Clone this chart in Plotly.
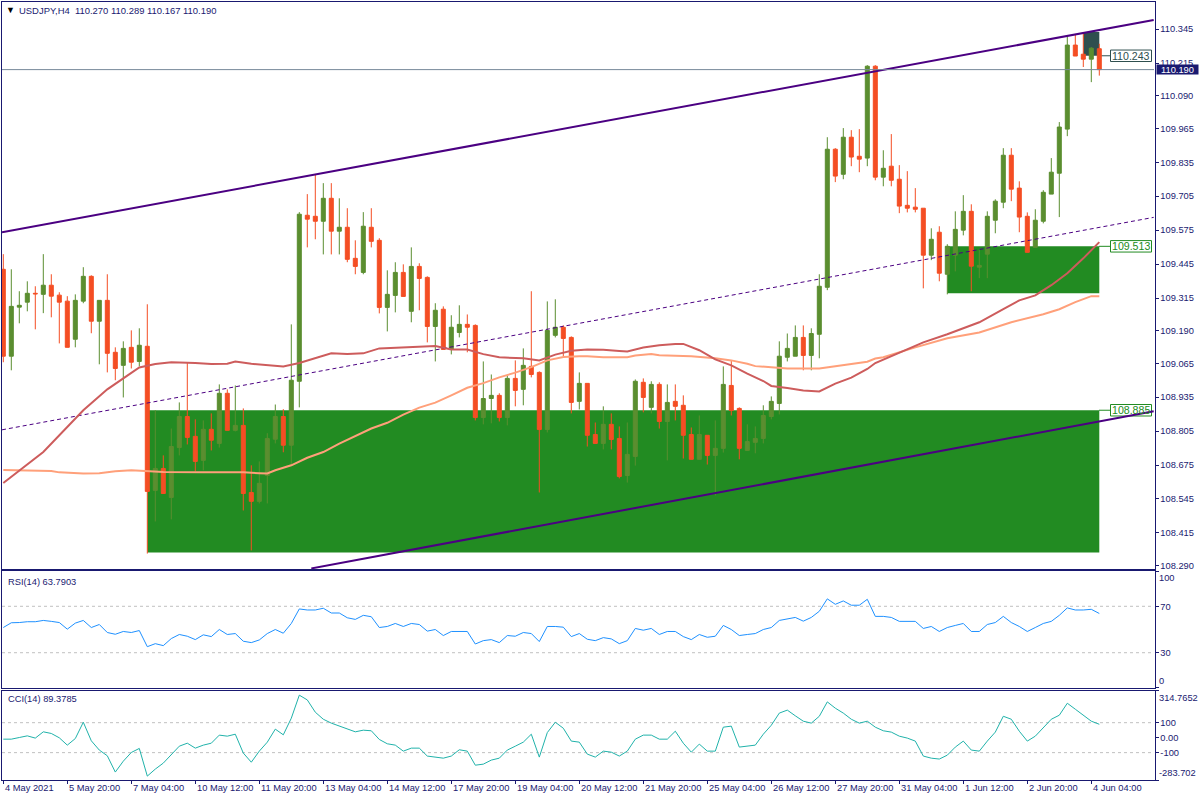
import plotly.graph_objects as go

FONT = "Liberation Sans"
NAVY = "#191970"

# open, high, low, close per H4 bar
opens = [109.425,109.092,109.280,109.299,109.333,109.329,109.364,109.326,109.303,109.157,109.303,109.398,109.226,109.306,109.107,109.057,109.126,109.072,109.130,108.578,
108.662,108.551,108.742,108.861,108.785,108.693,108.812,108.758,108.950,108.808,108.827,108.570,108.536,108.635,108.774,108.861,108.751,108.996,109.632,109.628,
109.609,109.697,109.571,109.586,109.467,109.413,109.586,109.536,109.279,109.325,109.413,109.264,109.436,109.394,109.206,109.272,109.118,109.183,109.214,109.210,
108.857,108.930,108.942,108.857,109.007,108.965,109.053,109.030,108.811,109.172,109.203,109.164,108.919,108.988,108.792,108.758,108.831,108.777,108.635,108.708,
108.992,108.896,108.984,108.842,108.919,108.904,108.792,108.697,108.789,108.712,108.739,108.980,108.892,108.731,108.762,108.777,108.861,108.911,109.088,109.092,
109.164,109.095,109.176,109.356,109.885,109.789,109.931,109.858,109.851,110.203,109.778,109.820,109.770,109.670,109.663,109.659,109.479,109.567,109.406,109.479,
109.575,109.647,109.433,109.483,109.613,109.682,109.862,109.736,109.628,109.509,109.609,109.713,109.793,109.962,110.284,110.249,110.230,110.270]
highs = [109.483,109.425,109.341,109.379,109.360,109.483,109.406,109.337,109.322,109.329,109.433,109.402,109.306,109.406,109.126,109.149,109.191,109.199,109.291,108.885,
108.712,108.815,108.915,109.069,108.850,108.846,108.873,108.984,108.965,108.980,108.892,108.674,108.689,108.797,108.907,108.889,109.214,109.644,109.713,109.789,
109.755,109.755,109.697,109.659,109.536,109.644,109.659,109.544,109.421,109.452,109.444,109.509,109.448,109.398,109.295,109.283,109.249,109.287,109.252,109.214,
109.072,109.022,108.950,109.018,109.076,109.122,109.341,109.034,109.302,109.310,109.210,109.168,109.030,108.988,108.838,108.900,108.873,108.823,108.838,109.003,
109.007,108.996,108.992,108.984,108.984,108.942,108.819,108.865,108.789,108.846,109.053,109.076,108.896,108.831,108.823,108.904,108.938,109.149,109.179,109.210,
109.210,109.199,109.406,109.931,109.889,109.966,109.958,109.962,110.207,110.207,109.881,109.943,109.824,109.801,109.736,109.659,109.582,109.590,109.521,109.647,
109.709,109.674,109.502,109.647,109.693,109.889,109.889,109.762,109.643,109.655,109.728,109.851,109.989,110.318,110.326,110.334,110.276,110.289]
lows = [109.069,109.038,109.218,109.264,109.195,109.257,109.241,109.141,109.126,109.126,109.295,109.180,109.061,109.030,109.000,108.934,109.045,109.053,108.336,108.459,
108.566,108.467,108.712,108.754,108.651,108.655,108.731,108.742,108.808,108.804,108.501,108.348,108.528,108.528,108.758,108.724,108.674,108.896,109.509,109.540,
109.482,109.482,109.482,109.452,109.406,109.406,109.509,109.256,109.187,109.260,109.321,109.222,109.268,109.145,109.072,109.118,109.099,109.164,109.107,108.846,
108.831,108.835,108.842,108.827,108.900,108.904,109.011,108.570,108.800,109.164,109.092,108.873,108.888,108.746,108.758,108.735,108.735,108.624,108.608,108.673,
108.877,108.873,108.815,108.693,108.846,108.700,108.697,108.697,108.677,108.559,108.723,108.865,108.697,108.731,108.720,108.758,108.850,108.869,109.072,109.092,
109.038,109.038,109.084,109.345,109.759,109.770,109.820,109.797,109.820,109.766,109.743,109.743,109.640,109.643,109.643,109.352,109.460,109.379,109.329,109.417,
109.555,109.341,109.391,109.391,109.563,109.659,109.686,109.567,109.490,109.509,109.601,109.713,109.625,109.935,110.242,110.200,110.142,110.167]
closes = [109.092,109.283,109.287,109.333,109.331,109.364,109.322,109.299,109.126,109.306,109.398,109.226,109.306,109.103,109.045,109.122,109.069,109.134,108.574,108.662,
108.566,108.746,108.861,108.781,108.689,108.812,108.770,108.950,108.808,108.827,108.566,108.536,108.605,108.777,108.861,108.751,109.000,109.636,109.617,109.609,
109.697,109.571,109.586,109.463,109.436,109.590,109.532,109.279,109.329,109.413,109.321,109.436,109.390,109.206,109.268,109.118,109.203,109.214,109.203,108.857,
108.930,108.942,108.857,109.007,108.961,109.057,109.022,108.811,109.191,109.203,109.160,108.915,108.988,108.789,108.758,108.831,108.773,108.631,108.716,108.996,
108.934,108.984,108.842,108.915,108.900,108.789,108.697,108.792,108.712,108.739,108.984,108.884,108.739,108.765,108.777,108.865,108.919,109.092,109.122,109.164,
109.095,109.179,109.360,109.885,109.782,109.931,109.855,109.847,110.203,109.778,109.812,109.766,109.667,109.659,109.655,109.479,109.540,109.410,109.513,109.578,
109.647,109.437,109.440,109.628,109.686,109.862,109.732,109.625,109.490,109.613,109.720,109.797,109.970,110.284,110.242,110.230,110.272,110.190]
bars = list(range(len(closes)))

ma_red_i = [0,5,10,13,15,17,19,21,24,26,28,29,31,33,35,37,39,41,43,45,47,50,52,54,56,58,60,62,65,67,69,71,73,75,77,78,80,82,84,85,87,89,91,93,95,96,98,100,102,104,106,108,109,112,115,118,122,125,127,129,131,133,135,137]
ma_red = [108.606,108.725,108.885,108.965,109.007,109.049,109.062,109.069,109.066,109.062,109.063,109.072,109.063,109.057,109.053,109.066,109.085,109.103,109.100,109.103,109.122,109.126,109.131,109.131,109.118,109.118,109.100,109.088,109.084,109.076,109.098,109.113,109.118,109.117,109.112,109.110,109.125,109.134,109.139,109.139,109.115,109.080,109.057,109.025,108.997,108.978,108.970,108.961,108.957,108.987,109.010,109.043,109.066,109.107,109.145,109.176,109.222,109.272,109.306,109.325,109.364,109.410,109.467,109.529]
ma_salmon_i = [0,6,7,10,12,14,16,18,20,25,30,32,33,34,36,38,40,42,44,46,48,50,52,54,56,58,60,62,64,66,68,70,72,73,75,78,79,81,82,85,86,89,91,93,94,96,98,102,104,106,108,109,110,114,118,122,126,130,132,134,136,137]
ma_salmon = [108.656,108.652,108.647,108.643,108.644,108.651,108.655,108.651,108.648,108.647,108.647,108.644,108.643,108.655,108.674,108.703,108.725,108.757,108.785,108.815,108.837,108.868,108.895,108.914,108.942,108.971,108.989,109.011,109.029,109.050,109.076,109.089,109.092,109.092,109.088,109.088,109.095,109.100,109.096,109.095,109.092,109.084,109.076,109.063,109.054,109.050,109.045,109.045,109.054,109.063,109.071,109.083,109.088,109.126,109.161,109.183,109.222,109.253,109.272,109.299,109.322,109.322]

rsi = [51.7,55.8,56,56.7,56.7,57.8,57,56,50.3,55.5,57.8,51.7,54.3,47.4,45.9,48.3,47.4,49.1,35.2,37.8,36.1,42.2,45.7,44.2,41.3,45.4,43.9,50,45.7,46.5,39.9,38.7,41,46.5,50,46.8,55.2,67.7,66.8,66.8,68.3,64.2,64.2,60.1,58.7,62.2,61,51.7,52.6,55.2,52.6,55.2,54.3,48.6,50,44.8,48.3,48.3,48.3,37.5,40.4,41.3,38.7,44.8,44.2,47.4,46.5,39.6,52.6,52.6,52,43.9,46.5,41.6,40.4,43,41.9,37.8,40.4,50.9,49.4,50.9,45.7,48.3,48.3,43.9,41.3,45.7,43.3,44.2,53.5,50,44.8,45.7,46.5,50,51.7,57.8,59,60.4,57.2,60.4,65.7,76.4,71.7,74.6,70.9,70.9,76,61.3,61.3,60.4,57,57,57,50.9,52.6,48.3,51.7,53.5,55.2,48.3,48.3,54.3,56,61.3,56,52.6,48.3,51.7,55.2,57,62.2,68.6,66.8,66.8,67.4,63.79]
cci = [-10,-10,1,12,-3,39,28,-1,-50,-6,103,-21,-83,-121,-230,-157,-99,-72,-257,-210,-170,-115,-57,-37,-70,-50,-37,17,10,23,-103,-164,-90,-30,57,19,130,284,252,170,123,97,77,57,39,50,46,-12,-41,-50,-90,-70,-70,-123,-130,-137,-123,-81,-90,-184,-177,-150,-137,-83,-57,-30,23,-130,34,103,63,-23,-30,-110,-130,-90,-97,-123,-90,-10,17,17,-10,-10,43,-37,-97,-43,-90,-90,70,77,-63,-57,-50,23,83,164,184,146,110,97,143,239,197,164,123,97,110,70,46,37,10,-3,-23,-123,-137,-143,-117,-63,-23,-83,-90,-23,37,143,123,43,-23,10,63,123,150,230,190,150,110,89.38]

# drawn objects: [bar start, bar end], [price a, price b]
upper_i, upper_p = [-0.16, 143.8], [109.567, 110.380]
lower_i, lower_p = [38.5, 143.8], [108.279, 108.881]
mid_i, mid_p = [-0.16, 143.8], [108.810, 109.624]
zones = [(18, 137, 108.885, 108.340, "#228b22"), (118, 137, 109.513, 109.333, "#228b22"), (135, 137, 110.334, 110.243, "#2f4f4f")]
zone_tags = [("108.885", 108.885, "#228b22"), ("109.513", 109.513, "#228b22"), ("110.243", 110.243, "#2f4f4f")]
last_price = 110.190

price_ticks = [110.345,110.215,110.090,109.965,109.835,109.705,109.575,109.445,109.315,109.190,109.065,108.935,108.805,108.675,108.545,108.415,108.290]
time_labels = ["4 May 2021","5 May 20:00","7 May 04:00","10 May 12:00","11 May 20:00","13 May 04:00","14 May 12:00","17 May 20:00","19 May 04:00","20 May 12:00","21 May 20:00","25 May 04:00","26 May 12:00","27 May 20:00","31 May 04:00","1 Jun 12:00","2 Jun 20:00","4 Jun 04:00"]
time_bars = [0,8,16,24,32,40,48,56,64,72,80,88,96,104,112,120,128,136]

W, H = 1200, 800
V = 1.0033  # vertical correction measured against the returned picture
def py(px):
    return max(0.0, 1 - px * V / H)

fig = go.Figure()
fig.add_trace(go.Candlestick(x=bars, open=opens, high=highs, low=lows, close=closes, whiskerwidth=0,
    increasing=dict(line=dict(color="#5b8e30", width=1), fillcolor="#5b8e30"),
    decreasing=dict(line=dict(color="#f44e24", width=1), fillcolor="#f44e24"), xaxis="x", yaxis="y", hoverinfo="skip"))
for xs, ys, col, w, dash in [(mid_i, mid_p, "#4b0082", 1, "4px,3px"), (upper_i, upper_p, "#4b0082", 2, "solid"), (lower_i, lower_p, "#4b0082", 2, "solid"),
                             (ma_salmon_i, ma_salmon, "#ffa07a", 2, "solid"), (ma_red_i, ma_red, "#cd5c5c", 2, "solid")]:
    fig.add_trace(go.Scatter(x=xs, y=ys, mode="lines", line=dict(color=col, width=w, dash=dash), xaxis="x", yaxis="y", hoverinfo="skip"))
fig.add_trace(go.Scatter(x=bars, y=rsi, mode="lines", line=dict(color="#1e90ff", width=1), xaxis="x2", yaxis="y2", hoverinfo="skip"))
fig.add_trace(go.Scatter(x=bars, y=cci, mode="lines", line=dict(color="#20b2aa", width=1), xaxis="x3", yaxis="y3", hoverinfo="skip"))

shapes = []
for x0, x1, a, b, col in zones:
    shapes.append(dict(type="rect", xref="x", yref="y", x0=x0, x1=x1, y0=a, y1=b, fillcolor=col, line_width=0, layer="below"))
for lab, p, col in zone_tags:
    shapes.append(dict(type="line", xref="paper", yref="y", x0=1099/W, x1=1111/W, y0=p, y1=p, line=dict(color=col, width=1), layer="below"))
    shapes.append(dict(type="rect", xref="paper", yref="y", x0=1110.5/W, x1=1151.5/W, y0=p-0.022, y1=p+0.022, fillcolor="#ffffff", line=dict(color=col, width=1), layer="below"))
shapes.append(dict(type="line", xref="paper", yref="y", x0=2/W, x1=1154/W, y0=last_price, y1=last_price, line=dict(color="#778899", width=1)))
for lv in (30, 70):
    shapes.append(dict(type="line", xref="paper", yref="y2", x0=2/W, x1=1154/W, y0=lv, y1=lv, line=dict(color="#c0c0c0", width=1, dash="3px,3px"), layer="below"))
for lv in (-100, 100):
    shapes.append(dict(type="line", xref="paper", yref="y3", x0=2/W, x1=1154/W, y0=lv, y1=lv, line=dict(color="#c0c0c0", width=1, dash="3px,3px"), layer="below"))

ann = []
def text(x, y, s, size=9.3, color=NAVY, anchor="left", yanchor="middle", **kw):
    ann.append(dict(xref="paper", yref="paper", x=x/W, y=py(y), text=s, showarrow=False, xanchor=anchor, yanchor=yanchor,
                    font=dict(family=FONT, size=size, color=color), borderpad=0, **kw))

text(5, 9.5, "▼", size=9, color="#000000")
text(18, 10, "USDJPY,H4&nbsp;&nbsp;110.270 110.289 110.167 110.190", size=9.45)
text(7, 582, "RSI(14) 63.7903")
text(7, 698.5, "CCI(14) 89.3785")
for lab, b in zip(time_labels, time_bars):
    ann.append(dict(xref="x3", yref="paper", x=b+0.1, y=py(787.5), text=lab, showarrow=False, xanchor="left", yanchor="middle",
                    font=dict(family=FONT, size=9.3, color=NAVY), borderpad=0))
for lab, p, col in zone_tags:
    ann.append(dict(xref="paper", yref="y", x=1131/W, y=p, text=lab, showarrow=False, xanchor="center", yanchor="middle",
                    font=dict(family=FONT, size=10.6, color=col), borderpad=0))
ann.append(dict(xref="paper", yref="y", x=1156/W, y=last_price, text="110.190", showarrow=False, xanchor="left", yanchor="middle", width=41, height=9,
                font=dict(family=FONT, size=9.3, color="#ffffff"), bgcolor=NAVY, borderpad=0, align="center"))
# indicator scale labels sit inside their panes
text(1158, 577.7, "100"); text(1158, 680.7, "0")
text(1158, 697.7, "314.7652"); text(1158, 772.7, "-283.702")

def xaxis(**kw):
    return dict(domain=[2/W, 1154.5/W], range=[-0.1625, 143.9], showgrid=False, zeroline=False, showline=True, linecolor=NAVY, linewidth=1, mirror=True, rangeslider=dict(visible=False), **kw)
def yaxis(dom, rng, vals, txt, x):
    return dict(domain=dom, range=rng, side="right", anchor=x, showgrid=False, zeroline=False, showline=True, linecolor=NAVY, linewidth=1, mirror=True,
                tickmode="array", tickvals=vals, ticktext=txt, ticks="outside", ticklen=3, tickcolor=NAVY,
                tickfont=dict(family=FONT, size=9.3, color=NAVY))

fig.update_layout(
    width=W, height=H, autosize=False, margin=dict(l=0, r=0, t=0, b=0), paper_bgcolor="#ffffff", plot_bgcolor="#ffffff",
    showlegend=False, hovermode=False, boxgap=0.2, boxgroupgap=0.375, shapes=shapes, annotations=ann,
    xaxis=xaxis(anchor="y", showticklabels=False, ticks=""),
    xaxis2=xaxis(anchor="y2", matches="x", showticklabels=False, ticks=""),
    xaxis3=xaxis(anchor="y3", matches="x", showticklabels=False, ticks="outside", ticklen=3, tickcolor=NAVY, tickmode="array", tickvals=time_bars),
    yaxis=yaxis([py(568.5), py(2)], [108.277, 110.449], price_ticks, [f"{v:.3f}" for v in price_ticks], "x"),
    yaxis2=yaxis([py(687), py(571)], [0, 100], [0, 30, 70, 100], ["", "30", "70", ""], "x2"),
    yaxis3=yaxis([py(779.5), py(690)], [-283.702, 314.7652], [-283.702, -100, 0, 100, 314.7652], ["", "-100", "0.00", "100", ""], "x3"),
)
fig.write_html("out.html", config=dict(displayModeBar=False),
               post_script="document.documentElement.style.overflow='hidden';document.body.style.overflow='hidden';document.body.style.margin='0';document.body.style.height='800px';")
